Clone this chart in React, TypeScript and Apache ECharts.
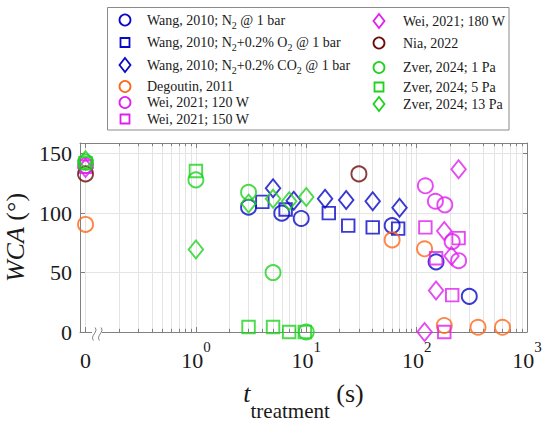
import React, { useEffect, useRef } from 'react';
import * as echarts from 'echarts';

const FONT = '"Liberation Serif", "Times New Roman", Times, serif';
const AX = '#808080';
const GRID_C = '#e4e4e4';
const TXT = '#1a1a1a';

const BLUE = '#0808C8';
const ORANGE = '#FF661A';
const MAGENTA = '#E01EF0';
const DARKRED = '#6E0A0A';
const GREEN = '#1ED21E';

// ---- data (t in s; "0" plotted at 0.1 on the log axis) ----
const wangN2T = [3, 6, 9, 60, 150, 300];
const wangN2W = [105, 100, 95.5, 89.5, 59, 30];
const wangO2T = [4, 6.5, 16, 24, 40, 68];
const wangO2W = [109.5, 103, 100, 89.5, 88, 87];
const wangCO2T = [5, 7.7, 14.8, 23, 40, 70];
const wangCO2W = [121, 110.5, 112, 111, 110, 104.5];
const degoutinT = [0.1, 60, 118, 178, 360, 600];
const degoutinW = [90.5, 77.5, 70, 5.5, 4, 4];
const wei120T = [0.1, 120, 148, 180, 210, 240];
const wei120W = [140, 123, 110, 107, 76, 60];
const wei150T = [0.1, 120, 150, 178, 210, 240];
const wei150W = [139, 88, 62, 0, 31, 79];
const wei180T = [0.1, 118, 150, 178, 207, 240];
const wei180W = [138, 0, 35, 85, 64, 137];
const niaT = [0.1, 30];
const niaW = [133, 133];
const zver1T = [0.1, 1, 3, 5, 10];
const zver1W = [143, 128, 117.5, 50, 0];
const zver5T = [0.1, 1, 3, 5, 7, 9.7];
const zver5W = [142, 135.5, 4.2, 4.2, 0, 0];
const zver13T = [0.1, 1, 3, 5, 7, 10];
const zver13W = [144.5, 69.5, 108, 112, 110, 113.5];

const xTicks = [0.1, 1, 10, 100, 1000];
const xTickLabels = ['0', '10^0', '10^1', '10^2', '10^3'];
const yTicks = [0, 50, 100, 150];
const minorT = [
  0.2, 0.3, 0.4, 0.5, 0.6, 0.7, 0.8, 0.9,
  2, 3, 4, 5, 6, 7, 8, 9,
  20, 30, 40, 50, 60, 70, 80, 90,
  200, 300, 400, 500, 600, 700, 800, 900,
];
const X_MIN = 0.0891;
const X_MAX = 1000;
const Y_MIN = 0;
const Y_MAX = 159;

type Def = { label: string; t: number[]; w: number[]; symbol: string; color: string };
const defs: Def[] = [
  { label: 'Wang, 2010; N{s|2} @ 1 bar', t: wangN2T, w: wangN2W, symbol: 'circle', color: BLUE },
  { label: 'Wang, 2010; N{s|2}+0.2% O{s|2} @ 1 bar', t: wangO2T, w: wangO2W, symbol: 'rect', color: BLUE },
  { label: 'Wang, 2010; N{s|2}+0.2% CO{s|2} @ 1 bar', t: wangCO2T, w: wangCO2W, symbol: 'diamond', color: BLUE },
  { label: 'Degoutin, 2011', t: degoutinT, w: degoutinW, symbol: 'circle', color: ORANGE },
  { label: 'Wei, 2021; 120 W', t: wei120T, w: wei120W, symbol: 'circle', color: MAGENTA },
  { label: 'Wei, 2021; 150 W', t: wei150T, w: wei150W, symbol: 'rect', color: MAGENTA },
  { label: 'Wei, 2021; 180 W', t: wei180T, w: wei180W, symbol: 'diamond', color: MAGENTA },
  { label: 'Nia, 2022', t: niaT, w: niaW, symbol: 'circle', color: DARKRED },
  { label: 'Zver, 2024; 1 Pa', t: zver1T, w: zver1W, symbol: 'circle', color: GREEN },
  { label: 'Zver, 2024; 5 Pa', t: zver5T, w: zver5W, symbol: 'rect', color: GREEN },
  { label: 'Zver, 2024; 13 Pa', t: zver13T, w: zver13W, symbol: 'diamond', color: GREEN },
];

// legend layout (marker x, text x, row y) per entry
const legendPos: [number, number, number][] = [
  [125, 147, 20], [125, 147, 42.5], [125, 147, 65], [125, 147, 86.5], [125, 147, 102.5], [125, 147, 119],
  [379, 403, 21], [379, 403, 43], [379, 403, 67.5], [379, 403, 87], [379, 403, 104],
];

function symSize(s: string): number | number[] {
  if (s === 'rect') return 12.5;
  if (s === 'diamond') return [14.5, 18];
  return 15;
}

function legendMarker(d: Def, cx: number, cy: number): any {
  const style = { fill: 'none', stroke: d.color, lineWidth: 1.8 };
  if (d.symbol === 'rect') return { type: 'rect', z: 101, shape: { x: cx - 4.5, y: cy - 4.5, width: 9, height: 9 }, style };
  if (d.symbol === 'diamond')
    return { type: 'polygon', z: 101, shape: { points: [[cx, cy - 7], [cx + 5.5, cy], [cx, cy + 7], [cx - 5.5, cy]] }, style };
  return { type: 'circle', z: 101, shape: { cx, cy, r: 5.5 }, style };
}

export default function App() {
  const ref = useRef<HTMLDivElement>(null);
  useEffect(() => {
    if (!ref.current) return;
    const chart = echarts.init(ref.current, undefined, { renderer: 'svg' });

    const isTick = (v: number) => xTicks.findIndex((t) => Math.abs(Math.log10(t) - Math.log10(v)) < 1e-6);

    const scatter = defs.map((d) => ({
      type: 'scatter',
      name: d.label,
      xAxisIndex: 0,
      yAxisIndex: 0,
      symbol: d.symbol,
      symbolSize: symSize(d.symbol),
      clip: false,
      z: 5,
      itemStyle: { color: 'rgba(0,0,0,0)', borderColor: d.color, borderWidth: 1.9 },
      emphasis: { disabled: true },
      data: d.t.map((t, i) => [t, d.w[i]]),
    }));

    const tickLen = (3.2 * (Y_MAX - Y_MIN)) / 189;
    const helper = {
      type: 'scatter',
      xAxisIndex: 0,
      yAxisIndex: 0,
      data: [],
      z: 1,
      silent: true,
      markLine: {
        silent: true,
        symbol: ['none', 'none'],
        label: { show: false },
        animation: false,
        lineStyle: { color: GRID_C, type: 'solid', width: 1 },
        data: [
          ...minorT.map((v) => ({ xAxis: v })),
          ...minorT.map((v) => [
            { coord: [v, Y_MIN], lineStyle: { color: AX, type: 'solid', width: 1 } },
            { coord: [v, Y_MIN + tickLen] },
          ]),
          ...minorT.map((v) => [
            { coord: [v, Y_MAX], lineStyle: { color: AX, type: 'solid', width: 1 } },
            { coord: [v, Y_MAX - tickLen] },
          ]),
        ],
      },
    };

    const legendEls: any[] = [
      {
        type: 'rect',
        z: 100,
        shape: { x: 107.5, y: 7.5, width: 401.5, height: 122.5 },
        style: { fill: '#ffffff', stroke: '#8a8a8a', lineWidth: 1 },
      },
    ];
    defs.forEach((d, i) => {
      const [mx, tx, y] = legendPos[i];
      legendEls.push(legendMarker(d, mx, y));
      legendEls.push({
        type: 'text',
        z: 101,
        x: tx,
        y,
        style: {
          text: d.label,
          fontFamily: FONT,
          fontSize: 14,
          fill: TXT,
          verticalAlign: 'middle',
          align: 'left',
          rich: {
            s: { fontFamily: FONT, fontSize: 10, fill: TXT, padding: [10, 0, 0, 0], verticalAlign: 'middle' },
          },
        },
      });
    });

    const breakEls: any[] = [
      { type: 'rect', z: 100, shape: { x: 92, y: 330, width: 10, height: 4.5 }, style: { fill: '#ffffff' } },
      {
        type: 'bezierCurve',
        z: 101,
        shape: { x1: 95, y1: 327.5, cpx1: 99, cpy1: 331.5, cpx2: 89.5, cpy2: 336, x2: 93.5, y2: 340.5 },
        style: { stroke: AX, lineWidth: 1, fill: 'none' },
      },
      {
        type: 'bezierCurve',
        z: 101,
        shape: { x1: 101, y1: 327.5, cpx1: 105, cpy1: 331.5, cpx2: 95.5, cpy2: 336, x2: 99.5, y2: 340.5 },
        style: { stroke: AX, lineWidth: 1, fill: 'none' },
      },
    ];

    const option: any = {
      animation: false,
      backgroundColor: '#ffffff',
      textStyle: { fontFamily: FONT },
      grid: { left: 80, right: 23, top: 143, bottom: 93, containLabel: false, outerBoundsMode: 'none' },
      xAxis: [
        {
          type: 'log',
          logBase: 10,
          min: X_MIN,
          max: X_MAX,
          position: 'bottom',
          axisLine: { show: true, onZero: false, lineStyle: { color: AX, width: 1 } },
          axisTick: { show: true, inside: true, length: 5, lineStyle: { color: AX } },
          minorTick: { show: false },
          splitLine: { show: true, lineStyle: { color: GRID_C, width: 1 } },
          axisLabel: {
            margin: 7,
            color: TXT,
            formatter: (v: number) => {
              const k = isTick(v);
              if (k < 0) return '';
              if (k === 0) return '{z|' + xTickLabels[0] + '}';
              const [b, e] = xTickLabels[k].split('^');
              return '{b|' + b + '}{s|' + e + '}';
            },
            rich: {
              z: { fontFamily: FONT, fontSize: 22, color: TXT, padding: [10.5, 0, 10.5, 0], verticalAlign: 'middle' },
              b: { fontFamily: FONT, fontSize: 22, color: TXT, verticalAlign: 'middle' },
              s: { fontFamily: FONT, fontSize: 15, color: TXT, padding: [0, 0, 28, 0], verticalAlign: 'middle' },
            },
          },
          name: '{t|t}{sub|treatment}{n| (s)}',
          nameLocation: 'middle',
          nameGap: 33,
          nameTextStyle: {
            rich: {
              t: { fontFamily: FONT, fontSize: 26, fontStyle: 'italic', color: TXT, verticalAlign: 'middle' },
              sub: { fontFamily: FONT, fontSize: 21, color: TXT, padding: [35, 0, 0, 0], verticalAlign: 'middle' },
              n: { fontFamily: FONT, fontSize: 26, color: TXT, verticalAlign: 'middle' },
            },
          },
        },
        {
          type: 'log',
          logBase: 10,
          min: X_MIN,
          max: X_MAX,
          position: 'top',
          axisLine: { show: true, onZero: false, lineStyle: { color: AX, width: 1 } },
          axisTick: { show: true, inside: true, length: 5, lineStyle: { color: AX } },
          axisLabel: { show: false },
          splitLine: { show: false },
        },
      ],
      yAxis: [
        {
          type: 'value',
          min: Y_MIN,
          max: Y_MAX,
          interval: 50,
          position: 'left',
          axisLine: { show: true, onZero: false, lineStyle: { color: AX, width: 1 } },
          axisTick: { show: true, inside: true, length: 5, lineStyle: { color: AX } },
          splitLine: { show: true, lineStyle: { color: GRID_C, width: 1 } },
          axisLabel: {
            margin: 8,
            color: TXT,
            fontFamily: FONT,
            fontSize: 22,
            formatter: (v: number) => (yTicks.includes(v) ? String(v) : ''),
          },
          name: '{i|WCA}{n| (°)}',
          nameLocation: 'middle',
          nameGap: 45,
          nameTextStyle: {
            rich: {
              i: { fontFamily: FONT, fontSize: 26, fontStyle: 'italic', color: TXT },
              n: { fontFamily: FONT, fontSize: 26, color: TXT },
            },
          },
        },
        {
          type: 'value',
          min: Y_MIN,
          max: Y_MAX,
          interval: 50,
          position: 'right',
          axisLine: { show: true, onZero: false, lineStyle: { color: AX, width: 1 } },
          axisTick: { show: true, inside: true, length: 5, lineStyle: { color: AX } },
          axisLabel: { show: false },
          splitLine: { show: false },
        },
      ],
      graphic: [...legendEls, ...breakEls],
      series: [helper, ...scatter],
    };

    chart.setOption(option);
    return () => chart.dispose();
  }, []);

  return <div ref={ref} style={{ width: 550, height: 425, position: 'absolute', left: 0, top: 0 }} />;
}
